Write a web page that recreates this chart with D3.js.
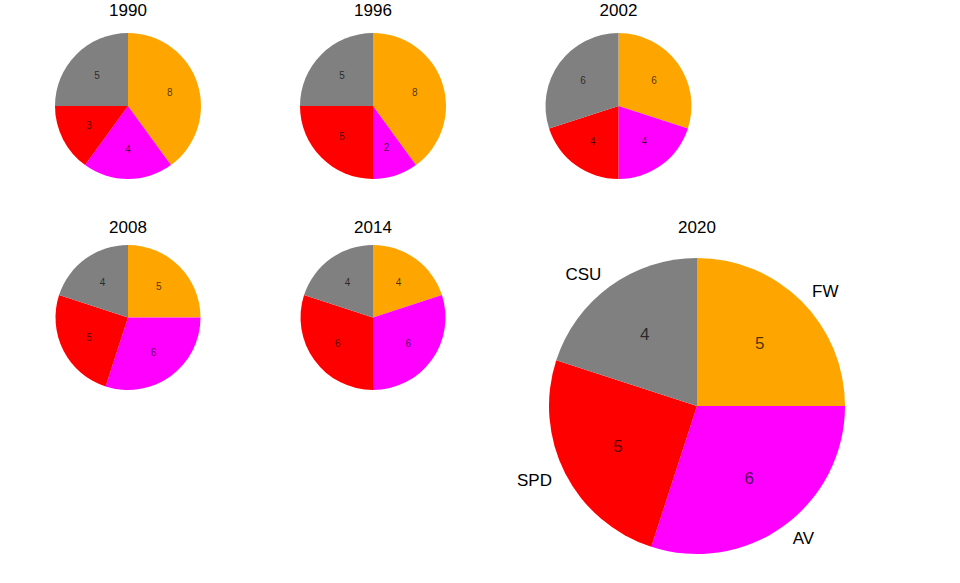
<!DOCTYPE html>
<html>
<head>
<meta charset="UTF-8">
<script src="https://d3js.org/d3.v7.min.js"></script>
<style>
  body { margin: 0; background: #fff; }
  svg { display: block; font-family: "Liberation Sans", Arial, sans-serif; }
</style>
</head>
<body>
<svg id="chart" width="960" height="583"></svg>
<script>
// Sitzverteilung nach Wahljahr
const years = ['1990', '1996', '2002', '2008', '2014', '2020'];
const parties = ['FW', 'AV', 'SPD', 'CSU'];
const partyColors = ['#ffa500', '#ff00ff', '#ff0000', '#808080'];
const seats1990 = [8, 4, 3, 5];
const seats1996 = [8, 2, 5, 5];
const seats2002 = [6, 4, 4, 6];
const seats2008 = [5, 6, 5, 4];
const seats2014 = [4, 6, 6, 4];
const seats2020 = [5, 6, 5, 4];
const seatsByYear = [seats1990, seats1996, seats2002, seats2008, seats2014, seats2020];

const svg = d3.select('#chart');

// Panel-Layout: Mittelpunkt, Radius, Titel-Grundlinie
const panels = [
  { cx: 128,   cy: 106,   r: 73,  titleY: 16 },
  { cx: 373,   cy: 106,   r: 73,  titleY: 16 },
  { cx: 618.5, cy: 106,   r: 73,  titleY: 16 },
  { cx: 128,   cy: 317.5, r: 72.5, titleY: 233 },
  { cx: 373,   cy: 317.5, r: 72.5, titleY: 233 },
  { cx: 697,   cy: 406,   r: 148, titleY: 233, labels: true }
];

const color = d3.scaleOrdinal().domain(parties).range(partyColors);
const pie = d3.pie().sort(null).value(d => d.value).startAngle(0).endAngle(2 * Math.PI);

years.forEach((year, i) => {
  const p = panels[i];
  const data = parties.map((party, j) => ({ party, value: seatsByYear[i][j] }));
  const arcs = pie(data);
  const big = !!p.labels;

  svg.append('text')
    .attr('x', p.cx)
    .attr('y', p.titleY)
    .attr('text-anchor', 'middle')
    .attr('font-size', '17px')
    .attr('fill', '#000')
    .text(year);

  const g = svg.append('g').attr('transform', `translate(${p.cx},${p.cy})`);

  const arc = d3.arc().innerRadius(0).outerRadius(p.r);
  g.selectAll('path')
    .data(arcs)
    .join('path')
    .attr('d', arc)
    .attr('fill', d => color(d.data.party));

  // Werte bei 0.6 r
  const inner = d3.arc().innerRadius(p.r * 0.6).outerRadius(p.r * 0.6);
  g.selectAll('text.value')
    .data(arcs)
    .join('text')
    .attr('class', 'value')
    .attr('transform', d => `translate(${inner.centroid(d)})`)
    .attr('text-anchor', 'middle')
    .attr('dy', '0.35em')
    .attr('font-size', big ? '17px' : '10px')
    .attr('fill', '#000')
    .attr('fill-opacity', 0.7)
    .text(d => d.data.value);

  // Parteinamen nur im großen Diagramm, bei 1.1 r
  if (big) {
    const outer = d3.arc().innerRadius(p.r * 1.1).outerRadius(p.r * 1.1);
    g.selectAll('text.label')
      .data(arcs)
      .join('text')
      .attr('class', 'label')
      .attr('transform', d => `translate(${outer.centroid(d)})`)
      .attr('text-anchor', d => outer.centroid(d)[0] < 0 ? 'end' : 'start')
      .attr('dy', '0.35em')
      .attr('font-size', '17px')
      .attr('fill', '#000')
      .text(d => d.data.party);
  }
});
</script>
</body>
</html>
